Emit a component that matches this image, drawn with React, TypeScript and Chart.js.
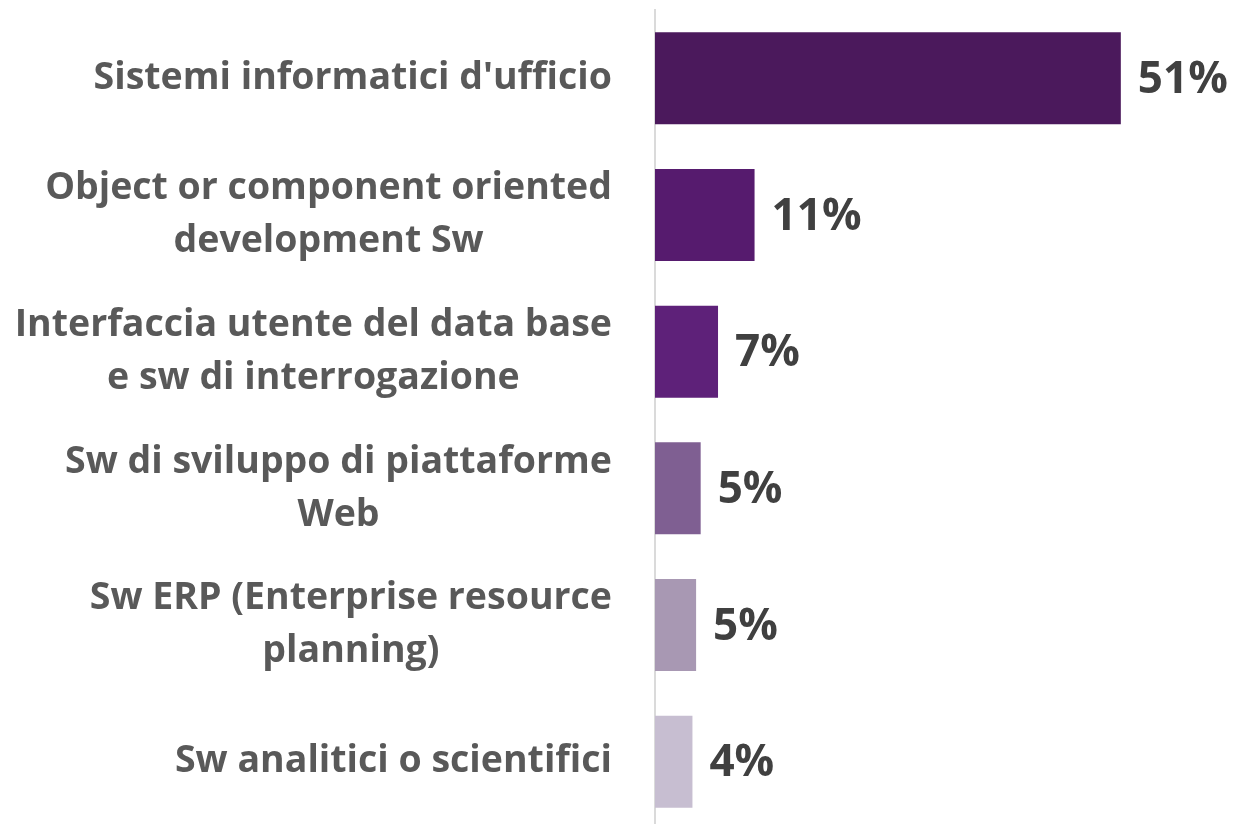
import React, { useEffect, useRef } from "react";
import { Chart, registerables } from "chart.js";

Chart.register(...registerables);

const categories: string[][] = [
  ["Sistemi informatici d'ufficio"],
  ["Object or component oriented", "development Sw"],
  ["Interfaccia utente del data base", "e sw di interrogazione"],
  ["Sw di sviluppo di piattaforme", "Web"],
  ["Sw ERP (Enterprise resource", "planning)"],
  ["Sw analitici o scientifici"],
];
const values: number[] = [51.0, 10.9, 6.9, 5.0, 4.5, 4.1];
const valueLabels: string[] = ["51%", "11%", "7%", "5%", "5%", "4%"];
const barColors: string[] = ["#4B195C", "#561B6E", "#5E2179", "#7F5F92", "#A898B3", "#C7BED1"];

const LABEL_FONT = "bold 37.5px 'Open Sans', sans-serif";
const VALUE_FONT = "bold 44px 'Open Sans', sans-serif";

const labelPlugin = {
  id: "customLabels",
  afterDatasetsDraw(chart: any) {
    const ctx = chart.ctx;
    const yScale = chart.scales.y;
    const meta = chart.getDatasetMeta(0);
    ctx.save();
    ctx.font = LABEL_FONT;
    ctx.fillStyle = "#595959";
    ctx.textBaseline = "middle";
    ctx.textAlign = "center";
    const rightEdge = yScale.right - 43;
    const lineH = 53;
    categories.forEach((lines, i) => {
      const cy = yScale.getPixelForTick(i);
      const maxW = Math.max(...lines.map((l) => ctx.measureText(l).width));
      const cx = rightEdge - maxW / 2;
      const y0 = cy - ((lines.length - 1) * lineH) / 2;
      lines.forEach((l, j) => ctx.fillText(l, cx, y0 + j * lineH));
    });
    ctx.font = VALUE_FONT;
    ctx.fillStyle = "#404040";
    ctx.textAlign = "left";
    meta.data.forEach((bar: any, i: number) => {
      ctx.fillText(valueLabels[i], bar.x + 17, bar.y + 2);
    });
    ctx.restore();
  },
};

export default function App() {
  const ref = useRef<HTMLCanvasElement | null>(null);
  useEffect(() => {
    document.body.style.margin = "0";
    document.body.style.overflow = "hidden";
    const chart = new Chart(ref.current!, {
      type: "bar",
      data: {
        labels: categories.map((c) => c.join(" ")),
        datasets: [
          {
            data: values,
            backgroundColor: barColors,
            borderWidth: 0,
            barPercentage: 0.673,
            categoryPercentage: 1,
          },
        ],
      },
      options: {
        indexAxis: "y",
        animation: false,
        responsive: false,
        maintainAspectRatio: false,
        layout: { padding: { top: 10, bottom: 0, left: 0, right: 0 } },
        plugins: { legend: { display: false }, tooltip: { enabled: false } },
        scales: {
          x: { display: false, min: 0, max: 63.5 },
          y: {
            display: true,
            grid: { display: false, drawTicks: false },
            ticks: { display: false },
            border: { display: true, color: "#DADADA", width: 2 },
            afterFit(scale: any) {
              scale.width = 655;
            },
          },
        },
      },
      plugins: [labelPlugin],
    });
    return () => chart.destroy();
  }, []);
  return (
    <div style={{ position: "fixed", left: 0, top: 0, width: 1235, height: 830 }}>
      <canvas ref={ref} width={1235} height={830} style={{ width: 1235, height: 830 }} />
    </div>
  );
}
